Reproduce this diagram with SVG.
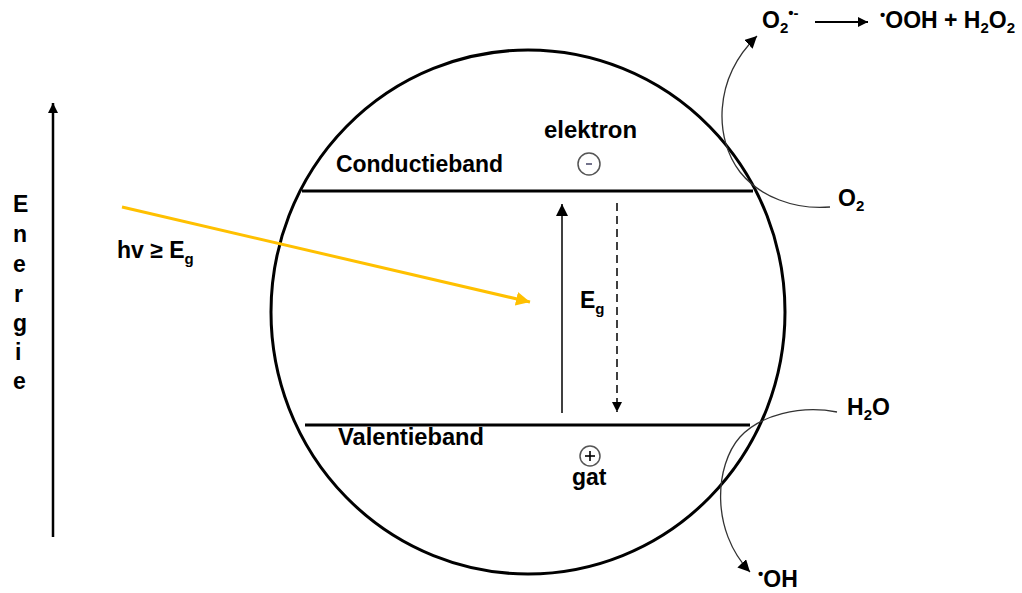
<svg xmlns="http://www.w3.org/2000/svg" width="1022" height="593" viewBox="0 0 1022 593">
<style>
text{font-family:"Liberation Sans",Arial,sans-serif;font-weight:bold;fill:#000}
.t{font-size:23px}
.s{font-size:15px}
.thin{fill:none;stroke:#333;stroke-width:1.3}
.band{stroke:#000;stroke-width:3}
</style>
<defs>
<marker id="ah" markerUnits="userSpaceOnUse" markerWidth="14" markerHeight="12" refX="12" refY="6" orient="auto"><path d="M0,0 L12,6 L0,12 Z" fill="#000"/></marker>
<marker id="ahs" markerUnits="userSpaceOnUse" markerWidth="12" markerHeight="10" refX="10" refY="5" orient="auto"><path d="M0,0 L10,5 L0,10 Z" fill="#000"/></marker>
<marker id="ahy" markerUnits="userSpaceOnUse" markerWidth="16" markerHeight="14" refX="14" refY="7" orient="auto"><path d="M0,0 L14,7 L0,14 Z" fill="#FFC000"/></marker>
</defs>
<g id="particle">
<ellipse cx="528" cy="312" rx="257" ry="262" fill="none" stroke="#000" stroke-width="3"/>
</g>
<g id="conductieband">
<line class="band" x1="302" y1="191" x2="753" y2="191"/>
<text class="t" x="336" y="172" textLength="167" lengthAdjust="spacingAndGlyphs">Conductieband</text>
</g>
<g id="valentieband">
<line class="band" x1="305" y1="425" x2="750" y2="425"/>
<text class="t" x="338" y="445" textLength="146" lengthAdjust="spacingAndGlyphs">Valentieband</text>
</g>
<g id="elektron">
<text class="t" x="544" y="138" textLength="93" lengthAdjust="spacingAndGlyphs">elektron</text>
<circle cx="589" cy="164" r="11" fill="none" stroke="#555" stroke-width="1.5"/>
<line x1="586" y1="164" x2="592" y2="164" stroke="#446" stroke-width="1.5"/>
</g>
<g id="gat">
<circle cx="590" cy="456" r="10" fill="none" stroke="#555" stroke-width="1.5"/>
<line x1="585" y1="456" x2="595" y2="456" stroke="#000" stroke-width="1.6"/>
<line x1="590" y1="451" x2="590" y2="461" stroke="#000" stroke-width="1.6"/>
<text class="t" x="572" y="485">gat</text>
</g>
<g id="energie">
<text class="t" x="13" y="212">E</text>
<text class="t" x="13" y="242">n</text>
<text class="t" x="13" y="272">e</text>
<text class="t" x="14" y="302">r</text>
<text class="t" x="13" y="331">g</text>
<text class="t" x="15" y="360">i</text>
<text class="t" x="13" y="389">e</text>
</g>
<g id="hv">
<text class="t" x="117" y="258">hv ≥ E<tspan class="s" dy="6">g</tspan></text>
</g>
<g id="eg">
<text class="t" x="580" y="308">E<tspan class="s" dy="6">g</tspan></text>
</g>
<g id="o2">
<text class="t" x="838" y="206">O<tspan class="s" dy="5">2</tspan></text>
</g>
<g id="superoxide">
<text class="t" x="762" y="28">O<tspan class="s" dy="5">2</tspan><tspan class="s" dy="-15">•-</tspan></text>
</g>
<g id="products">
<text class="t" x="880" y="28"><tspan class="s" dy="-8">•</tspan><tspan dy="8">OOH + H</tspan><tspan class="s" dy="5">2</tspan><tspan dy="-5">O</tspan><tspan class="s" dy="5">2</tspan></text>
</g>
<g id="h2o">
<text class="t" x="847" y="415">H<tspan class="s" dy="5">2</tspan><tspan dy="-5">O</tspan></text>
</g>
<g id="oh">
<text class="t" x="758" y="587"><tspan class="s" dy="-8">•</tspan><tspan dy="8">OH</tspan></text>
</g>
<g id="connectors">
<line x1="53" y1="537" x2="53" y2="103" stroke="#000" stroke-width="2.5" marker-end="url(#ahs)"/>
<line x1="122" y1="207" x2="530" y2="302" stroke="#FFC000" stroke-width="3" marker-end="url(#ahy)"/>
<line x1="562" y1="413" x2="562" y2="204" stroke="#000" stroke-width="1.5" marker-end="url(#ah)"/>
<line x1="617" y1="203" x2="617" y2="412" stroke="#000" stroke-width="1.5" stroke-dasharray="8,5" marker-end="url(#ahs)"/>
<line x1="815" y1="22" x2="868" y2="22" stroke="#000" stroke-width="1.8" marker-end="url(#ahs)"/>
<path class="thin" d="M830,207 C795,210 760,197 740,172 C715,140 712,80 757,36" marker-end="url(#ah)"/>
<path class="thin" d="M837,412 C800,405 760,415 740,437 C715,465 710,530 750,572" marker-end="url(#ah)"/>
</g>
</svg>
